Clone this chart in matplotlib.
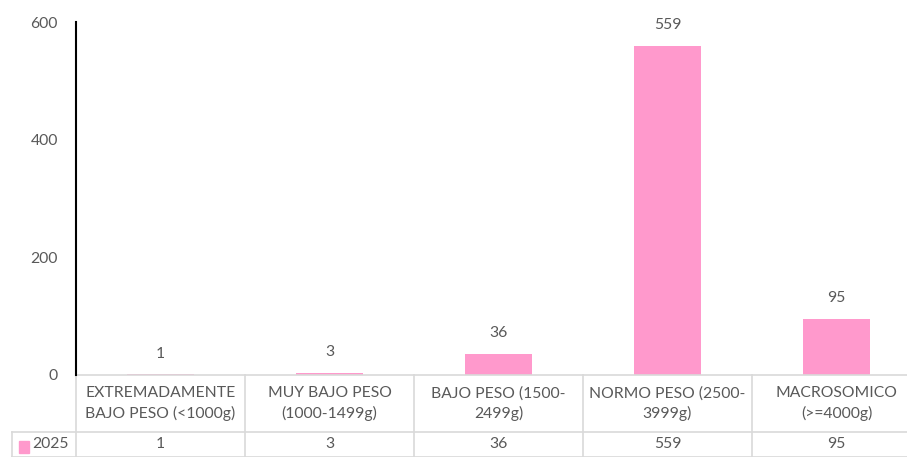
import matplotlib.pyplot as plt
import matplotlib.transforms as mtransforms
from matplotlib.patches import Rectangle

categories = ['EXTREMADAMENTE\nBAJO PESO (<1000g)', 'MUY BAJO PESO\n(1000-1499g)',
              'BAJO PESO (1500-\n2499g)', 'NORMO PESO (2500-\n3999g)', 'MACROSOMICO\n(>=4000g)']
values = [1, 3, 36, 559, 95]
series_name = '2025'
yticks = [0, 200, 400, 600]

pink = '#FF99CC'
grey = '#595959'
grid = '#D9D9D9'
plt.rcParams['font.family'] = ['Lato', 'DejaVu Sans']

fig = plt.figure(figsize=(9.07, 4.57), dpi=100)
axw = 845
ax = fig.add_axes([76 / 907, 82 / 457, axw / 907, 353 / 457])

x = range(len(values))
ax.bar(x, values, width=0.4, color=pink)
for xi, v in zip(x, values):
    ax.annotate(str(v), (xi, v), xytext=(0, 15), textcoords='offset points',
                ha='center', va='center', fontsize=11.3, color=grey)

ax.set_xlim(-0.5, len(values) - 0.5)
ax.set_ylim(0, 600)
ax.set_yticks(yticks)
ax.tick_params(axis='y', length=0, pad=13, labelsize=11.3, labelcolor=grey)
ax.set_xticks([])
for s in ['top', 'right', 'bottom']:
    ax.spines[s].set_visible(False)
ax.spines['left'].set_color('black')
ax.spines['left'].set_linewidth(1.5)

# data table below the plot
trans = mtransforms.blended_transform_factory(ax.transData, ax.transAxes)
h1 = -57 / 353
h2 = -82 / 353
xl = -64 / axw
line_kw = dict(color=grid, lw=1.2, clip_on=False)
ax.plot([0, 1], [0, 0], transform=ax.transAxes, **line_kw)
ax.plot([xl, 1], [h1, h1], transform=ax.transAxes, **line_kw)
ax.plot([xl, 1], [h2, h2], transform=ax.transAxes, **line_kw)
ax.plot([xl, xl], [h1, h2], transform=ax.transAxes, **line_kw)
for b in range(len(values) + 1):
    ax.plot([b - 0.5, b - 0.5], [0, h2], transform=trans, **line_kw)
for xi, (c, v) in enumerate(zip(categories, values)):
    ax.text(xi, h1 / 2, c, transform=trans, ha='center', va='center',
            fontsize=11.3, color=grey, linespacing=1.45)
    ax.text(xi, (h1 + h2) / 2, str(v), transform=trans, ha='center', va='center',
            fontsize=11.3, color=grey)

ax.add_patch(Rectangle((-57 / axw, -78 / 353), 10 / axw, 12 / 353,
                       transform=ax.transAxes, color=pink, clip_on=False))
ax.text(-44 / axw, (h1 + h2) / 2, series_name, transform=ax.transAxes,
        ha='left', va='center', fontsize=11.3, color=grey)

fig.savefig('out.png', dpi=100)
